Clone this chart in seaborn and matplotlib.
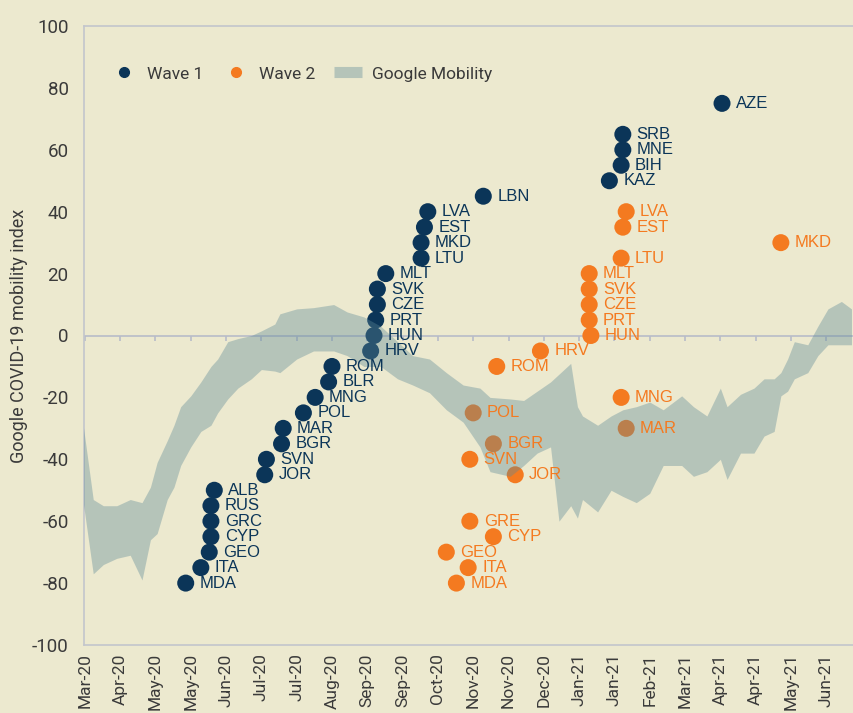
import pandas as pd
import seaborn as sns
import matplotlib.pyplot as plt
import matplotlib.dates as mdates
from matplotlib.lines import Line2D

# ---- data --------------------------------------------------------------
wave1_codes = ['MDA', 'ITA', 'GEO', 'CYP', 'GRC', 'RUS', 'ALB', 'JOR', 'SVN', 'BGR',
               'MAR', 'POL', 'MNG', 'BLR', 'ROM', 'HRV', 'HUN', 'PRT', 'CZE', 'SVK',
               'MLT', 'LTU', 'MKD', 'EST', 'LVA', 'LBN', 'KAZ', 'BIH', 'MNE', 'SRB', 'AZE']
wave1_dates = ['2020-05-20', '2020-05-29', '2020-06-03', '2020-06-04', '2020-06-04',
               '2020-06-04', '2020-06-06', '2020-07-06', '2020-07-07', '2020-07-16',
               '2020-07-17', '2020-07-29', '2020-08-05', '2020-08-13', '2020-08-15',
               '2020-09-07', '2020-09-09', '2020-09-10', '2020-09-11', '2020-09-11',
               '2020-09-16', '2020-10-07', '2020-10-07', '2020-10-09', '2020-10-11',
               '2020-11-13', '2021-01-27', '2021-02-03', '2021-02-04', '2021-02-04',
               '2021-04-04']
wave1_values = [-80, -75, -70, -65, -60, -55, -50, -45, -40, -35, -30, -25, -20, -15, -10,
                -5, 0, 5, 10, 15, 20, 25, 30, 35, 40, 45, 50, 55, 60, 65, 75]

wave2_codes = ['MDA', 'ITA', 'GEO', 'CYP', 'GRE', 'JOR', 'SVN', 'BGR', 'MAR', 'POL',
               'MNG', 'ROM', 'HRV', 'HUN', 'PRT', 'CZE', 'SVK', 'MLT', 'LTU', 'MKD',
               'EST', 'LVA']
wave2_dates = ['2020-10-28', '2020-11-04', '2020-10-22', '2020-11-19', '2020-11-05',
               '2020-12-02', '2020-11-05', '2020-11-19', '2021-02-06', '2020-11-07',
               '2021-02-03', '2020-11-21', '2020-12-17', '2021-01-16', '2021-01-15',
               '2021-01-15', '2021-01-15', '2021-01-15', '2021-02-03', '2021-05-09',
               '2021-02-04', '2021-02-06']
wave2_values = [-80, -75, -70, -65, -60, -45, -40, -35, -30, -25, -20, -10, -5, 0, 5,
                10, 15, 20, 25, 30, 35, 40]

# Google mobility band: upper / lower envelope of the daily series
mob_dates = ['2020-03-19', '2020-03-26', '2020-04-01', '2020-04-09', '2020-04-17',
             '2020-04-24', '2020-04-29', '2020-05-03', '2020-05-09', '2020-05-13',
             '2020-05-17', '2020-05-23', '2020-05-29', '2020-06-04', '2020-06-08',
             '2020-06-14', '2020-06-20', '2020-06-28', '2020-07-04', '2020-07-12',
             '2020-07-15', '2020-07-25', '2020-08-04', '2020-08-16', '2020-08-24',
             '2020-09-03', '2020-09-13', '2020-09-23', '2020-10-02', '2020-10-12',
             '2020-10-22', '2020-11-01', '2020-11-11', '2020-11-17', '2020-11-29',
             '2020-12-07', '2020-12-15', '2020-12-23', '2020-12-28', '2021-01-04',
             '2021-01-08', '2021-01-11', '2021-01-20', '2021-01-28', '2021-02-04',
             '2021-02-12', '2021-02-20', '2021-02-28', '2021-03-11', '2021-03-18',
             '2021-03-26', '2021-04-03', '2021-04-07', '2021-04-15', '2021-04-23',
             '2021-04-29', '2021-05-05', '2021-05-09', '2021-05-13', '2021-05-17',
             '2021-05-25', '2021-05-31', '2021-06-06', '2021-06-14', '2021-06-20']
mob_upper = [-25, -53, -55, -55, -53, -54, -49, -41, -34, -29, -23, -19.5, -15, -10, -7.6,
             -2, -1, 0, 1.5, 3.7, 7, 8.6, 9, 10, 7.6, 6, 3, -2, -6.5, -7.6,
             -12, -16, -17, -20, -20.5, -21, -18, -15, -12.5, -9, -23, -26, -29, -26, -24,
             -23, -21.5, -24, -19.5, -23, -26, -17, -23, -19, -17, -14, -14, -12, -7.6, -2,
             -3, 3, 8.6, 11, 8.6]
mob_lower = [-50, -77, -74, -72, -71, -79, -66, -64, -53, -49, -42, -36, -31, -29, -25,
             -20.5, -17, -14, -11, -11.5, -12, -7.6, -5, -5, -6.5, -10, -10, -14, -16, -18.5,
             -24, -28, -36, -44, -45.5, -42, -38, -36, -60, -55, -59, -53, -57, -50, -52,
             -54, -51, -42, -42, -45.5, -44, -40, -46.5, -38, -38, -32.5, -31, -19.5, -18, -14,
             -12, -6.5, -3, -3, -3]

tick_labels = ['Mar-20', 'Apr-20', 'May-20', 'May-20', 'Jun-20', 'Jul-20', 'Jul-20',
               'Aug-20', 'Sep-20', 'Sep-20', 'Oct-20', 'Nov-20', 'Nov-20', 'Dec-20',
               'Jan-21', 'Jan-21', 'Feb-21', 'Mar-21', 'Apr-21', 'Apr-21', 'May-21', 'Jun-21']

# ---- styling -------------------------------------------------------------
navy = '#0B3558'
orange = '#F47A20'
band = '#5D8997'
bg = '#ECE9CF'
txt = '#3A3A3A'
grey = '#C3C6CC'
axis_font = ['Roboto', 'DejaVu Sans']

sns.set_theme(style='white', rc={'axes.facecolor': bg, 'figure.facecolor': bg})
plt.rcParams['font.family'] = ['Liberation Sans', 'DejaVu Sans']

w1 = pd.DataFrame({'code': wave1_codes, 'date': pd.to_datetime(wave1_dates),
                   'value': wave1_values, 'wave': 'Wave 1'})
w2 = pd.DataFrame({'code': wave2_codes, 'date': pd.to_datetime(wave2_dates),
                   'value': wave2_values, 'wave': 'Wave 2'})
df = pd.concat([w1, w2], ignore_index=True)
mob = pd.DataFrame({'date': pd.to_datetime(mob_dates), 'upper': mob_upper, 'lower': mob_lower})

fig = plt.figure(figsize=(8.54, 7.13), dpi=100)
ax = fig.add_axes([84 / 854, 1 - 645 / 713, 770 / 854, 619 / 713])

colors = {'Wave 1': navy, 'Wave 2': orange}
sns.scatterplot(data=df, x='date', y='value', hue='wave', palette=colors, s=150,
                linewidth=0, legend=False, ax=ax, zorder=2)

ax.fill_between(mob['date'], mob['lower'], mob['upper'], color=band, alpha=0.38,
                linewidth=0, zorder=3)

for _, r in df.iterrows():
    ax.annotate(r['code'], (mdates.date2num(r['date']), r['value']), xytext=(10, 0),
                textcoords='offset points', ha='left', va='center', fontsize=12,
                color=colors[r['wave']], zorder=4)

# axis at zero with small downward ticks
ticks = pd.date_range('2020-03-21', periods=len(tick_labels), freq='21D')
ax.axhline(0, color='#B8BCC8', lw=1.2, zorder=1)
ax.vlines(ticks, -1.7, 0, color='#B8BCC8', lw=1.2, zorder=1)

ax.set_xlim(pd.Timestamp('2020-03-20 12:00'), pd.Timestamp('2021-06-21 12:00'))
ax.set_ylim(-100, 100)
ax.set_xticks(ticks)
ax.set_xticklabels(tick_labels, rotation=90, color=txt, fontsize=12.5, family=axis_font)
ax.set_yticks(range(-100, 101, 20))
ax.set_yticklabels([str(v) for v in range(-100, 101, 20)], color=txt, fontsize=13.5,
                   family=axis_font)
ax.tick_params(axis='both', length=0)
ax.tick_params(axis='x', pad=6)
ax.tick_params(axis='y', pad=11)
ax.set_xlabel('')
ax.set_ylabel('Google COVID-19 mobility index', color=txt, fontsize=13, family=axis_font,
              labelpad=3)

for side in ['left', 'top', 'bottom']:
    ax.spines[side].set_color(grey)
    ax.spines[side].set_linewidth(1.2)
ax.spines['right'].set_visible(False)

handles = [Line2D([], [], marker='o', ls='', color=navy, markersize=7, label='Wave 1'),
           Line2D([], [], marker='o', ls='', color=orange, markersize=7, label='Wave 2'),
           Line2D([], [], color=band, alpha=0.38, lw=8, solid_capstyle='butt',
                  label='Google Mobility')]
leg = ax.legend(handles=handles, loc='upper left', bbox_to_anchor=(0.013, 0.96), ncol=3,
                frameon=False, prop={'family': axis_font, 'size': 12.5}, handlelength=1.6,
                handletextpad=0.57, columnspacing=1.05)
for t in leg.get_texts():
    t.set_color(txt)

fig.savefig('out.png', dpi=100, facecolor=bg)
